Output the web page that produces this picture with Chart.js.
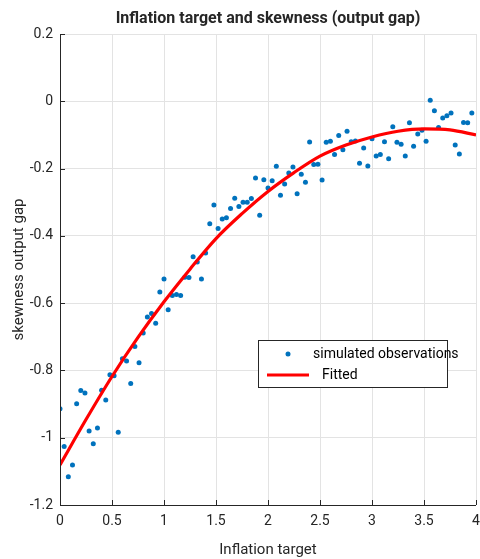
<!DOCTYPE html>
<html>
<head>
<meta charset="utf-8">
<script src="https://cdn.jsdelivr.net/npm/chart.js@4/dist/chart.umd.min.js"></script>
<style>
  html, body { margin: 0; padding: 0; background: #fff; }
</style>
</head>
<body>
<canvas id="skewChart" width="480" height="559"></canvas>
<script>
// simulated observations (x step 0.04)
const obsX = [
  0.00, 0.04, 0.08, 0.12, 0.16, 0.20, 0.24, 0.28, 0.32, 0.36,
  0.40, 0.44, 0.48, 0.52, 0.56, 0.60, 0.64, 0.68, 0.72, 0.76,
  0.80, 0.84, 0.88, 0.92, 0.96, 1.00, 1.04, 1.08, 1.12, 1.16,
  1.20, 1.24, 1.28, 1.32, 1.36, 1.40, 1.44, 1.48, 1.52, 1.56,
  1.60, 1.64, 1.68, 1.72, 1.76, 1.80, 1.84, 1.88, 1.92, 1.96,
  2.00, 2.04, 2.08, 2.12, 2.16, 2.20, 2.24, 2.28, 2.32, 2.36,
  2.40, 2.44, 2.48, 2.52, 2.56, 2.60, 2.64, 2.68, 2.72, 2.76,
  2.80, 2.84, 2.88, 2.92, 2.96, 3.00, 3.04, 3.08, 3.12, 3.16,
  3.20, 3.24, 3.28, 3.32, 3.36, 3.40, 3.44, 3.48, 3.52, 3.56,
  3.60, 3.64, 3.68, 3.72, 3.76, 3.80, 3.84, 3.88, 3.92, 3.96
];
const obsY = [
  -0.914, -1.026, -1.116, -1.081, -0.899, -0.860, -0.867, -0.980, -1.018, -0.971,
  -0.859, -0.888, -0.813, -0.816, -0.984, -0.765, -0.772, -0.839, -0.729, -0.777,
  -0.689, -0.641, -0.631, -0.660, -0.567, -0.528, -0.620, -0.577, -0.574, -0.577,
  -0.523, -0.524, -0.462, -0.478, -0.528, -0.451, -0.364, -0.308, -0.378, -0.350,
  -0.346, -0.319, -0.288, -0.313, -0.300, -0.300, -0.289, -0.228, -0.339, -0.233,
  -0.258, -0.236, -0.193, -0.279, -0.246, -0.213, -0.195, -0.275, -0.217, -0.241,
  -0.121, -0.188, -0.187, -0.234, -0.122, -0.119, -0.158, -0.102, -0.144, -0.089,
  -0.120, -0.118, -0.184, -0.139, -0.192, -0.111, -0.163, -0.158, -0.120, -0.171,
  -0.076, -0.122, -0.128, -0.163, -0.064, -0.134, -0.097, -0.086, -0.119, 0.003,
  -0.028, -0.078, -0.050, -0.043, -0.035, -0.130, -0.157, -0.063, -0.064, -0.035
];

// fitted curve, read at every 0.25
const fitX = [0, 0.25, 0.5, 0.75, 1.0, 1.25, 1.5, 1.75, 2.0, 2.25, 2.5, 2.75, 3.0, 3.25, 3.5, 3.75, 4.0];
const fitY = [-1.081, -0.946, -0.818, -0.702, -0.596, -0.499, -0.408, -0.334, -0.268, -0.212, -0.163, -0.130, -0.106, -0.089, -0.082, -0.085, -0.100];

const xTicks = [0, 0.5, 1, 1.5, 2, 2.5, 3, 3.5, 4];
const yTicks = [-1.2, -1, -0.8, -0.6, -0.4, -0.2, 0, 0.2];

const labels = ["simulated observations", "Fitted"];
const chartTitle = "Inflation target and skewness (output gap)";

const txt = "#262626";
const grid = "#e3e3e3";
const fontFam = "Roboto, 'Liberation Sans', Arial, sans-serif";

// title, axis lines, inward ticks and the legend (it sits inside the axes)
const extras = {
  id: "extras",
  afterDraw(chart) {
    const c = chart.ctx, a = chart.chartArea;
    const xs = chart.scales.x, ys = chart.scales.y;
    c.save();
    c.fillStyle = txt;
    c.font = "bold 16px " + fontFam;
    c.textAlign = "center";
    c.textBaseline = "middle";
    c.fillText(chartTitle, (a.left + a.right) / 2, 19);

    c.strokeStyle = "#262626";
    c.lineWidth = 1;
    c.beginPath();
    c.moveTo(a.left + 0.5, a.top);
    c.lineTo(a.left + 0.5, a.bottom + 0.5);
    c.lineTo(a.right, a.bottom + 0.5);
    xTicks.forEach(v => {
      const px = Math.round(xs.getPixelForValue(v)) + 0.5;
      c.moveTo(px, a.bottom);
      c.lineTo(px, a.bottom - 5);
    });
    yTicks.forEach(v => {
      const py = Math.round(ys.getPixelForValue(v)) + 0.5;
      c.moveTo(a.left, py);
      c.lineTo(a.left + 5, py);
    });
    c.stroke();

    const lx = 258, ly = 340, lw = 189, lh = 47;
    c.fillStyle = "#fff";
    c.fillRect(lx, ly, lw, lh);
    c.strokeStyle = "#262626";
    c.strokeRect(lx + 0.5, ly + 0.5, lw, lh);
    c.fillStyle = "#0072BD";
    c.beginPath();
    c.arc(288, 354, 2.5, 0, Math.PI * 2);
    c.fill();
    c.strokeStyle = "#ff0000";
    c.lineWidth = 3;
    c.beginPath();
    c.moveTo(267, 375);
    c.lineTo(309, 375);
    c.stroke();
    c.fillStyle = "#000";
    c.font = "14px " + fontFam;
    c.textAlign = "left";
    c.fillText(labels[0], 313, 354);
    c.fillText(labels[1], 322, 375);
    c.restore();
  }
};

const ctx = document.getElementById("skewChart");
new Chart(ctx, {
  type: "scatter",
  data: {
    datasets: [
      {
        label: labels[0],
        data: obsX.map((x, i) => ({ x: x, y: obsY[i] })),
        backgroundColor: "#0072BD",
        borderColor: "#0072BD",
        pointRadius: 2.5,
        pointBorderWidth: 0,
        order: 1
      },
      {
        label: labels[1],
        data: fitX.map((x, i) => ({ x: x, y: fitY[i] })),
        showLine: true,
        borderColor: "#ff0000",
        borderWidth: 3.2,
        pointRadius: 0,
        cubicInterpolationMode: "monotone",
        order: 0
      }
    ]
  },
  options: {
    responsive: false,
    animation: false,
    devicePixelRatio: 1,
    layout: { padding: { top: 34, right: 3, left: 0, bottom: 0 } },
    plugins: {
      legend: { display: false },
      title: { display: false },
      tooltip: { enabled: false }
    },
    scales: {
      x: {
        type: "linear",
        min: 0, max: 4,
        afterBuildTicks: s => { s.ticks = xTicks.map(v => ({ value: v })); },
        afterFit: s => { s.height = 54; s.paddingLeft = 0; s.paddingRight = 0; },
        border: { display: false },
        grid: { color: grid, tickLength: 0, drawTicks: false },
        ticks: {
          color: txt, font: { family: fontFam, size: 14 }, padding: 8,
          maxRotation: 0, autoSkip: false,
          callback: v => String(v)
        },
        title: {
          display: true, text: "Inflation target", color: txt,
          font: { family: fontFam, size: 15 }, padding: { top: 2, bottom: 0 }
        }
      },
      y: {
        type: "linear",
        min: -1.2, max: 0.2,
        afterBuildTicks: s => { s.ticks = yTicks.map(v => ({ value: v })); },
        afterFit: s => { s.width = 60; s.paddingTop = 0; s.paddingBottom = 0; },
        border: { display: false },
        grid: { color: grid, tickLength: 0, drawTicks: false },
        ticks: {
          color: txt, font: { family: fontFam, size: 14 }, padding: 7,
          autoSkip: false,
          callback: v => String(Math.round(v * 10) / 10)
        },
        title: {
          display: true, text: "skewness output gap", color: txt,
          font: { family: fontFam, size: 15 }, padding: { top: 10, bottom: 0 }
        }
      }
    }
  },
  plugins: [extras]
});
</script>
</body>
</html>
